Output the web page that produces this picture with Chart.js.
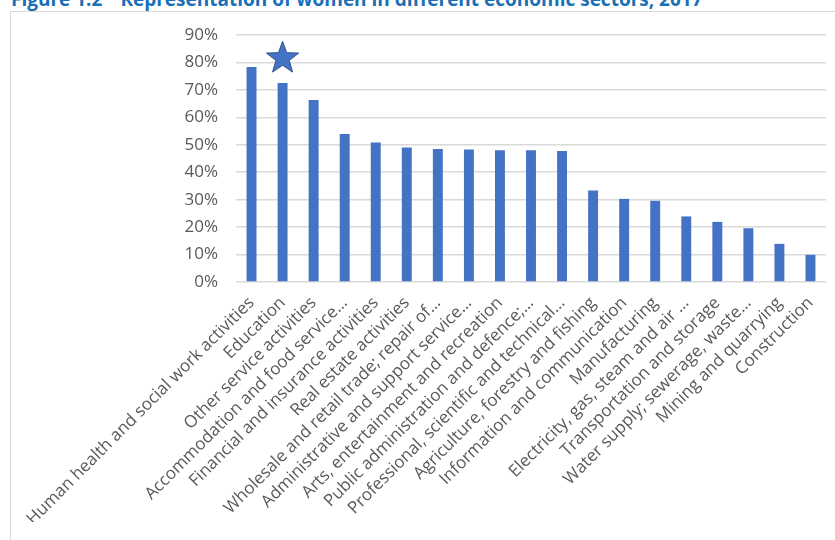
<!DOCTYPE html>
<html>
<head>
<meta charset="utf-8">
<script src="https://cdn.jsdelivr.net/npm/chart.js@4/dist/chart.umd.min.js"></script>
<style>
  html, body { margin: 0; padding: 0; background: #fff; }
  body { width: 835px; height: 540px; position: relative; overflow: hidden; }
  #title {
    position: absolute; left: 11px; top: -14px;
    font: bold 19px "Open Sans", sans-serif; color: #1a6fb6;
    white-space: nowrap;
  }
  #title .num { margin-right: 18px; }
  #frame {
    position: absolute; left: 10px; top: 11px; width: 900px; height: 600px;
    border: 1.5px solid #d9d9d9;
  }
  #wrap { position: absolute; left: 0; top: 0; width: 835px; height: 540px; }
</style>
</head>
<body>
<div id="title"><span class="num">Figure 1.2</span>Representation of women in different economic sectors, 2017</div>
<div id="frame"></div>
<div id="wrap"><canvas id="sectorChart" width="835" height="540"></canvas></div>
<script>
// Sectors, sorted by share of women
const sectors = [
    'Human health and social work activities',
    'Education',
    'Other service activities',
    'Accommodation and food service…',
    'Financial and insurance activities',
    'Real estate activities',
    'Wholesale and retail trade; repair of…',
    'Administrative and support service…',
    'Arts, entertainment and recreation',
    'Public administration and defence;…',
    'Professional, scientific and technical…',
    'Agriculture, forestry and fishing',
    'Information and communication',
    'Manufacturing',
    'Electricity, gas, steam and air …',
    'Transportation and storage',
    'Water supply; sewerage, waste…',
    'Mining and quarrying',
    'Construction'
];
// Share of women employed (%)
const womenShare = [78.3, 72.5, 66.3, 53.9, 50.8, 49.0, 48.5, 48.3, 48.0, 48.0, 47.7, 33.3, 30.3, 29.6, 23.9, 21.9, 19.6, 13.9, 9.9];
// y axis: 0% .. 90%
const yTicks = [0, 10, 20, 30, 40, 50, 60, 70, 80, 90];

// Star highlight over the education bar
const starSector = 'Education';
const starLevel = 81.5;

const BLUE = '#4472c4';
const GREY_TEXT = '#595959';
const GRID = '#d9d9d9';
const FONT = '"Open Sans", sans-serif';

const starMarker = {
    id: 'starMarker',
    afterDatasetsDraw(chart) {
        const { ctx, scales: { x, y } } = chart;
        const cx = x.getPixelForValue(sectors.indexOf(starSector));
        const cy = y.getPixelForValue(starLevel);
        const outer = 17, inner = 7;
        ctx.save();
        ctx.beginPath();
        for (let i = 0; i < 10; i++) {
            const r = i % 2 === 0 ? outer : inner;
            const a = -Math.PI / 2 + i * Math.PI / 5;
            const px = cx + r * Math.cos(a);
            const py = cy + r * Math.sin(a);
            if (i === 0) ctx.moveTo(px, py); else ctx.lineTo(px, py);
        }
        ctx.closePath();
        ctx.fillStyle = BLUE;
        ctx.fill();
        ctx.lineWidth = 1;
        ctx.strokeStyle = '#2f528f';
        ctx.stroke();
        ctx.restore();
    }
};

const ctx = document.getElementById('sectorChart').getContext('2d');
new Chart(ctx, {
    type: 'bar',
    data: {
        labels: sectors,
        datasets: [{
            label: 'Share of women',
            data: womenShare,
            backgroundColor: BLUE,
            borderWidth: 0,
            categoryPercentage: 1,
            barPercentage: 0.32
        }]
    },
    options: {
        responsive: false,
        animation: false,
        events: [],
        layout: { padding: { left: 176, right: 9, top: 35, bottom: 18 } },
        plugins: {
            legend: { display: false },
            tooltip: { enabled: false }
        },
        scales: {
            x: {
                grid: { display: false },
                border: { display: false },
                ticks: {
                    autoSkip: false,
                    minRotation: 45,
                    maxRotation: 45,
                    padding: 3,
                    color: GREY_TEXT,
                    font: { family: FONT, size: 17 }
                },
                afterFit(scale) { scale.height = 240; }
            },
            y: {
                min: 0,
                max: 90,
                afterBuildTicks(scale) { scale.ticks = yTicks.map(v => ({ value: v })); },
                grid: { color: GRID, lineWidth: 1.5, drawTicks: false },
                border: { display: false },
                ticks: {
                    padding: 18,
                    color: GREY_TEXT,
                    font: { family: FONT, size: 17 },
                    callback: v => v + '%'
                },
                afterFit(scale) { scale.width = 60; }
            }
        }
    },
    plugins: [starMarker]
});
</script>
</body>
</html>
